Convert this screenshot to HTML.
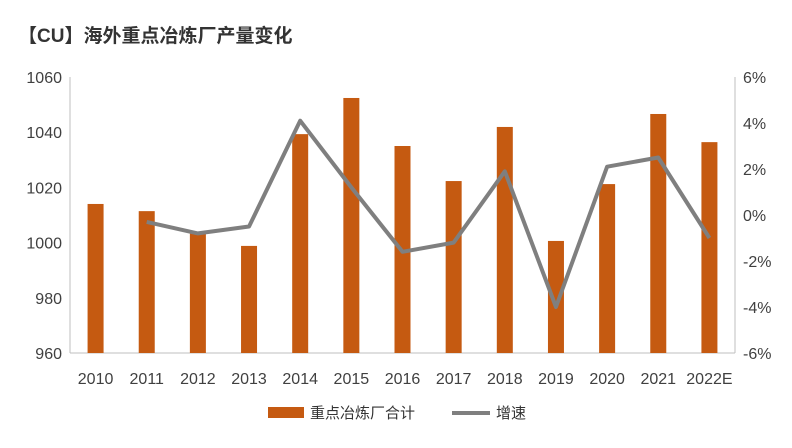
<!DOCTYPE html>
<html><head><meta charset="utf-8">
<style>
body{margin:0;background:#fff;}
svg{display:block;font-family:"Liberation Sans","Noto Sans CJK SC",sans-serif;}
</style></head>
<body>
<svg id="chart" width="792" height="448" viewBox="0 0 792 448" xmlns="http://www.w3.org/2000/svg">
<text x="18" y="42" font-size="19" font-weight="bold" fill="#333">【CU】海外重点冶炼厂产量变化</text>
<g id="plot"></g>
<g>
<rect x="268" y="407" width="36" height="11" fill="#c55a11"/>
<text x="310" y="418" font-size="15" fill="#333">重点冶炼厂合计</text>
<line x1="452" y1="413" x2="490" y2="413" stroke="#7f7f7f" stroke-width="4"/>
<text x="496" y="418" font-size="15" fill="#333">增速</text>
</g>
</svg>
<script>
const categories=["2010","2011","2012","2013","2014","2015","2016","2017","2018","2019","2020","2021","2022E"];
const output=[1014,1011.4,1003.5,998.8,1039.3,1052.4,1035,1022.3,1041.9,1000.6,1021.2,1046.6,1036.4];
const growth=[null,-0.3,-0.8,-0.5,4.1,1.2,-1.6,-1.2,1.9,-4.0,2.1,2.5,-1.0];
const leftTicks=[960,980,1000,1020,1040,1060];
const rightTicks=[-6,-4,-2,0,2,4,6];
const NS="http://www.w3.org/2000/svg";
const L=70,R=735,T=77,B=353;
const yL=v=>B-(v-960)/100*(B-T);
const yR=v=>B-(v+6)/12*(B-T);
const bw=(R-L)/categories.length;
const xC=i=>L+bw*(i+0.5);
const g=document.getElementById('plot');
function mk(tag,attrs){const e=document.createElementNS(NS,tag);for(const k in attrs)e.setAttribute(k,attrs[k]);g.appendChild(e);return e;}
let e;
e=mk('line',{x1:L,y1:T,x2:L,y2:B,stroke:'#bfbfbf'});


e=mk('line',{x1:R,y1:T,x2:R,y2:B,stroke:'#bfbfbf'});


e=mk('line',{x1:L,y1:B,x2:R,y2:B,stroke:'#bfbfbf'});


leftTicks.forEach(v=>{
 const t=mk('text',{x:L-8,y:yL(v)+6,'text-anchor':'end','font-size':16,fill:'#404040'});t.textContent=v;
 
 
});
rightTicks.forEach(v=>{
 const t=mk('text',{x:R+8,y:yR(v)+6,'font-size':16,fill:'#404040'});t.textContent=v+'%';
 
 
});
categories.forEach((c,i)=>{
 const t=mk('text',{x:xC(i),y:384,'text-anchor':'middle','font-size':16,fill:'#404040'});t.textContent=c;
 
 
 const b=mk('rect',{x:xC(i)-8,y:yL(output[i]),width:16,height:B-yL(output[i]),fill:'#c55a11'});
 
 
});
const pts=growth.map((v,i)=>v==null?null:[xC(i),yR(v)]).filter(p=>p);
const pl=mk('polyline',{points:pts.map(p=>p.join(',')).join(' '),fill:'none',stroke:'#7f7f7f','stroke-width':4,'stroke-linejoin':'round'});


</script>
</body></html>
